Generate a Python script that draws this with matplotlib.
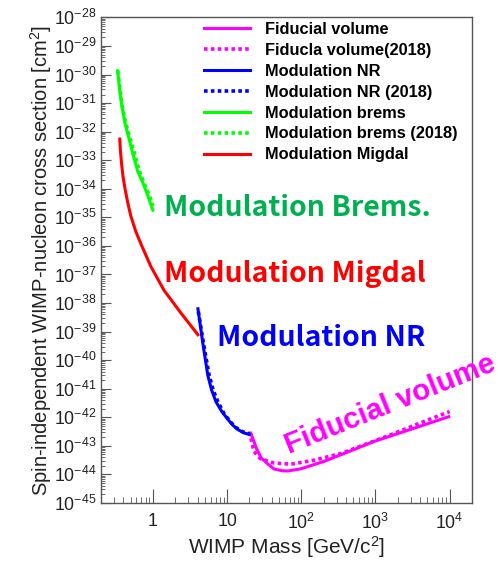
import matplotlib
matplotlib.use("Agg")
import matplotlib.pyplot as plt
import matplotlib.ticker as mticker
import numpy as np

plt.rcParams['font.family'] = ['Liberation Sans', 'DejaVu Sans']
plt.rcParams['mathtext.fontset'] = 'custom'
plt.rcParams['mathtext.rm'] = 'Liberation Sans'
plt.rcParams['mathtext.it'] = 'Liberation Sans:italic'
plt.rcParams['mathtext.bf'] = 'Liberation Sans:bold'

# WIMP mass [GeV/c^2] and log10 of the cross section limit [cm^2]
fid_mass = [21, 25, 29, 36, 43, 55, 66, 100, 204, 500, 970, 3000, 9700]
fid_logxs = [-42.57, -43.1, -43.43, -43.65, -43.81, -43.87, -43.88, -43.8,
             -43.54, -43.14, -42.84, -42.42, -41.98]
fid18_mass = [20, 23, 28, 43, 73, 150, 350, 1650, 5000, 10000]
fid18_logxs = [-42.5, -43.19, -43.45, -43.6, -43.64, -43.5, -43.26, -42.6,
               -42.1, -41.8]

nr_mass = [4.05, 4.7, 5.5, 6.2, 7.1, 8.5, 10.3, 12, 14, 17, 20]
nr_logxs = [-38.2, -39.38, -40.53, -41.05, -41.46, -41.8, -42.08, -42.28,
            -42.43, -42.55, -42.6]
nr18_mass = [4.1, 4.8, 5.7, 6.5, 7.5, 9, 11, 13, 16, 20]
nr18_logxs = [-38.3, -39.4, -40.5, -41.05, -41.45, -41.85, -42.15, -42.35,
              -42.5, -42.58]

brems_mass = [0.336, 0.355, 0.381, 0.42, 0.474, 0.54, 0.627, 0.75, 0.87, 1.0]
brems_logxs = [-29.87, -30.5, -31.08, -31.7, -32.22, -32.8, -33.4, -33.85,
               -34.3, -34.75]
brems18_mass = [0.336, 0.36, 0.385, 0.43, 0.49, 0.57, 0.66, 0.79, 0.9, 1.0]
brems18_logxs = [-29.87, -30.5, -31.08, -31.7, -32.22, -32.8, -33.4, -33.9,
                 -34.25, -34.6]

migdal_mass = [0.358, 0.365, 0.378, 0.395, 0.42, 0.46, 0.504, 0.59, 0.688,
               0.94, 1.41, 2.39, 4.05]
migdal_logxs = [-32.26, -32.65, -33.1, -33.55, -33.98, -34.5, -34.95, -35.5,
                -35.92, -36.72, -37.55, -38.35, -39.11]

dot = (0, (1, 0.9))

fig = plt.figure(figsize=(5.0, 5.62), dpi=100)
ax = fig.add_axes([0.202, 0.105, 0.742, 0.864])

ax.plot(fid_mass, 10.0 ** np.array(fid_logxs), color='#ff00ff', lw=2.2,
        label='Fiducial volume')
ax.plot(fid18_mass, 10.0 ** np.array(fid18_logxs), color='#ff00ff', lw=2.6,
        ls=dot, label='Fiducla volume(2018)')
ax.plot(nr_mass, 10.0 ** np.array(nr_logxs), color='#0000ff', lw=2.2,
        label='Modulation NR')
ax.plot(nr18_mass, 10.0 ** np.array(nr18_logxs), color='#0000ff', lw=2.6,
        ls=dot, label='Modulation NR (2018)')
ax.plot(brems_mass, 10.0 ** np.array(brems_logxs), color='#00ff00', lw=2.2,
        label='Modulation brems')
ax.plot(brems18_mass, 10.0 ** np.array(brems18_logxs), color='#00ff00', lw=2.6,
        ls=dot, label='Modulation brems (2018)')
ax.plot(migdal_mass, 10.0 ** np.array(migdal_logxs), color='#ff0000', lw=2.2,
        label='Modulation Migdal')

ax.set_xscale('log')
ax.set_yscale('log')
ax.set_xlim(0.2, 2e4)
ax.set_ylim(1e-45, 1e-28)

ax.xaxis.set_major_locator(mticker.LogLocator(base=10, numticks=20))
ax.xaxis.set_minor_locator(mticker.LogLocator(base=10, subs=np.arange(2, 10), numticks=20))
ax.yaxis.set_major_locator(mticker.LogLocator(base=10, numticks=30))
ax.yaxis.set_minor_locator(mticker.LogLocator(base=10, subs=np.arange(2, 10), numticks=30))


def xfmt(v, pos):
    e = int(round(np.log10(v)))
    if e == 0:
        return '1'
    if e == 1:
        return '10'
    return '$10^{%d}$' % e


ax.xaxis.set_major_formatter(mticker.FuncFormatter(xfmt))
ax.yaxis.set_major_formatter(mticker.FuncFormatter(lambda v, p: '$10^{%d}$' % int(round(np.log10(v)))))
ax.xaxis.set_minor_formatter(mticker.NullFormatter())
ax.yaxis.set_minor_formatter(mticker.NullFormatter())

edge = '#555555'
for sp in ax.spines.values():
    sp.set_color(edge)
    sp.set_linewidth(1.0)
ax.tick_params(axis='both', which='both', direction='in', color=edge,
               labelsize=12.8, labelcolor='#222222', top=False, right=False)
ax.tick_params(axis='x', which='major', length=10, pad=7)
ax.tick_params(axis='x', which='minor', length=4.5)
ax.tick_params(axis='y', which='major', length=7, pad=3)
ax.tick_params(axis='y', which='minor', length=3)

ax.set_xlabel('WIMP Mass [GeV/c$^2$]', fontsize=15, color='#222222', labelpad=1)
ax.set_ylabel('Spin-independent WIMP-nucleon cross section [cm$^2$]',
              fontsize=14.5, color='#222222', labelpad=0)

leg = fig.legend(loc='upper left', bbox_to_anchor=(0.408, 0.961), frameon=False,
                 prop={'family': 'Liberation Sans', 'weight': 'bold', 'size': 11.8},
                 handlelength=2.8, handletextpad=0.9, labelspacing=0.36,
                 borderpad=0, borderaxespad=0)

jp = ['Noto Sans CJK JP', 'DejaVu Sans']
ax.text(1.41, 10 ** -34.95, 'Modulation Brems.', color='#00b050', fontsize=20.5,
        family=jp, weight='bold', ha='left', va='baseline')
ax.text(1.41, 10 ** -37.27, 'Modulation Migdal', color='#ff0000', fontsize=20.5,
        family=jp, weight='bold', ha='left', va='baseline')
ax.text(7.3, 10 ** -39.49, 'Modulation NR', color='#0000ff', fontsize=20.5,
        family=jp, weight='bold', ha='left', va='baseline')
ax.text(68, 10 ** -43.3, 'Fiducial volume', color='#ff00ff', fontsize=21.3,
        family=['Liberation Sans'], weight='bold', ha='left', va='baseline',
        rotation=22, rotation_mode='anchor', clip_on=False)

fig.savefig('out.png', dpi=100, facecolor='white')
